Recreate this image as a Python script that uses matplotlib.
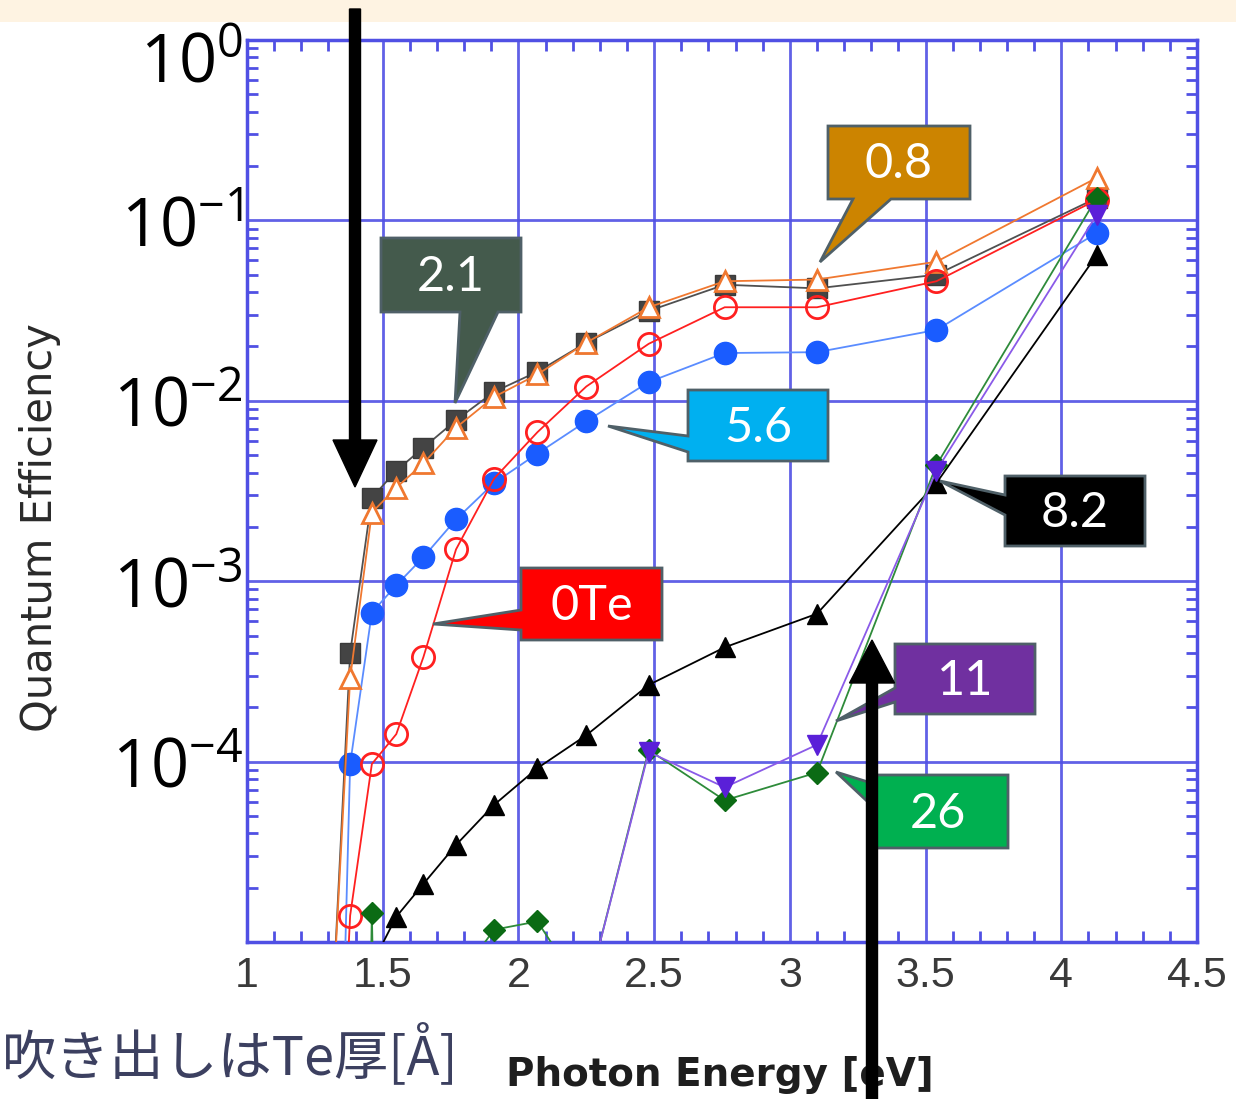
import numpy as np
import matplotlib
matplotlib.use("Agg")
import matplotlib.pyplot as plt
from matplotlib.patches import Rectangle, Polygon, FancyArrow
from matplotlib.ticker import FixedLocator, FuncFormatter, LogLocator, MultipleLocator, NullFormatter
from matplotlib.transforms import ScaledTranslation

nan = np.nan
# ---------------- data ----------------
energy = [1.31, 1.38, 1.46, 1.55, 1.65, 1.77, 1.91, 2.07, 2.25, 2.48, 2.76, 3.10, 3.54, 4.13]
qe_2p1 = [3e-6, 4.0e-4, 2.9e-3, 4.1e-3, 5.5e-3, 7.8e-3, 1.12e-2, 1.45e-2, 2.1e-2, 3.15e-2, 4.4e-2, 4.2e-2, 5.0e-2, 1.33e-1]
qe_0p8 = [3e-6, 2.9e-4, 2.4e-3, 3.3e-3, 4.5e-3, 7.1e-3, 1.05e-2, 1.4e-2, 2.1e-2, 3.3e-2, 4.6e-2, 4.7e-2, 5.9e-2, 1.72e-1]
qe_0te = [1e-7, 1.4e-5, 9.7e-5, 1.42e-4, 3.8e-4, 1.5e-3, 3.7e-3, 6.7e-3, 1.2e-2, 2.07e-2, 3.3e-2, 3.3e-2, 4.6e-2, 1.3e-1]
qe_5p6 = [1e-8, 9.7e-5, 6.7e-4, 9.5e-4, 1.36e-3, 2.2e-3, 3.5e-3, 5.1e-3, 7.7e-3, 1.27e-2, 1.84e-2, 1.86e-2, 2.47e-2, 8.5e-2]
qe_8p2 = [nan, nan, 7.5e-6, 1.38e-5, 2.1e-5, 3.45e-5, 5.75e-5, 9.2e-5, 1.4e-4, 2.66e-4, 4.3e-4, 6.6e-4, 3.5e-3, 6.4e-2]
qe_11 = [nan, nan, nan, nan, nan, nan, nan, nan, 5e-6, 1.13e-4, 7.2e-5, 1.24e-4, 4.1e-3, 1.07e-1]
qe_26 = [nan, 1e-12, 1.45e-5, 1e-12, 1e-7, 6e-6, 1.17e-5, 1.3e-5, 5e-6, 1.16e-4, 6.1e-5, 8.7e-5, 4.4e-3, 1.33e-1]

callout_labels = ["0.8", "2.1", "5.6", "0Te", "8.2", "11", "26"]
callout_colors = ["#CC8400", "#445A4C", "#00B0F0", "#FF0000", "#000000", "#7030A0", "#00B050"]

x_ticks = [1, 1.5, 2, 2.5, 3, 3.5, 4, 4.5]
x_tick_labels = ["1", "1.5", "2", "2.5", "3", "3.5", "4", "4.5"]
y_ticks = [1e-5, 1e-4, 1e-3, 1e-2, 1e-1, 1e0]

W, H = 1236, 1099
fig = plt.figure(figsize=(W / 100, H / 100), dpi=100)
fig.patch.set_facecolor("white")

def fx(px):
    return px / W

def fy(py):
    return 1 - py / H

# top peach band
fig.add_artist(Rectangle((0, fy(22)), 1, 22 / H, transform=fig.transFigure,
                         facecolor="#FEF3E2", edgecolor="none", zorder=0))

ax = fig.add_axes([fx(247), fy(942), fx(1197) - fx(247), fy(40) - fy(942)])
ax.set_yscale("log")
ax.set_xlim(1, 4.5)
ax.set_ylim(1e-5, 1)

blue = "#5050E4"
for s in ax.spines.values():
    s.set_color(blue)
    s.set_linewidth(2.5)
ax.grid(True, which="major", color=blue, linewidth=2.0, alpha=0.9)
ax.set_axisbelow(True)

ax.xaxis.set_major_locator(FixedLocator(x_ticks))
ax.set_xticklabels(x_tick_labels)
ax.xaxis.set_minor_locator(MultipleLocator(0.1))
ax.yaxis.set_major_locator(FixedLocator(y_ticks))
ax.yaxis.set_minor_locator(LogLocator(base=10, subs=np.arange(2, 10)))
ax.yaxis.set_minor_formatter(NullFormatter())
ax.yaxis.set_major_formatter(FuncFormatter(
    lambda v, p: r"$\mathdefault{10^{%d}}$" % int(round(np.log10(v)))))

ax.tick_params(which="both", direction="in", top=True, right=True, color=blue)
ax.tick_params(which="major", length=0, width=2)
ax.tick_params(which="minor", length=8, width=2)
ax.tick_params(axis="x", which="major", pad=10, labelsize=31, labelcolor="#3a3a3a")
ax.tick_params(axis="y", which="major", pad=3, labelsize=48, labelcolor="black")
for lab in ax.get_xticklabels():
    lab.set_fontfamily("Liberation Sans")
for lab in ax.get_yticklabels():
    lab.set_fontfamily("Open Sans")

# y=10^-5 label not shown in the reference; 10^0 label shifted down
fig.canvas.draw()
ylabs = ax.get_yticklabels()
ylabs[0].set_visible(False)
ylabs[-1].set_transform(ylabs[-1].get_transform() + ScaledTranslation(0, -17 / 100, fig.dpi_scale_trans))

# ---------------- series ----------------
lw = 1.3
ax.plot(energy, qe_5p6, "-o", color="#5A8CFF", lw=lw, ms=16, mfc="#1A5CFF", mec="#1A5CFF", zorder=3)
ax.plot(energy, qe_8p2, "-^", color="black", lw=lw, ms=14, mfc="black", mec="black", zorder=3)
ax.plot(energy, qe_2p1, "-s", color="#505050", lw=lw, ms=14, mfc="#444444", mec="#3a3a3a", zorder=4)
ax.plot(energy, qe_0p8, "-^", color="#F07830", lw=lw, ms=14, mfc="white", mec="#F07830", mew=2, zorder=5)
ax.plot(energy, qe_0te, "-o", color="#FF2020", lw=lw, ms=16, mfc="none", mec="#FF2020", mew=2, zorder=5)
ax.plot(energy, qe_26, "-D", color="#2E8B3A", lw=lw, ms=11, mfc="#0B6B14", mec="#0B6B14", zorder=6)
ax.plot(energy, qe_11, "-v", color="#8A5AE8", lw=lw, ms=14, mfc="#5A20D8", mec="#5A20D8", zorder=7)

# ---------------- labels ----------------
ax.set_ylabel("Quantum Efficiency", fontsize=30, color="#2a2a2a", fontfamily="DejaVu Sans")
ax.yaxis.set_label_coords((40 - 247) / 950, 1 - (528 - 40) / 902)
ax.yaxis.label.set_verticalalignment("center")
ax.set_xlabel("Photon Energy [eV]", fontsize=28, color="#1e1e1e", fontweight="bold", fontfamily="DejaVu Sans")
ax.xaxis.set_label_coords((720 - 247) / 950, -(1075 - 942) / 902)
ax.xaxis.label.set_verticalalignment("center")

fig.text(fx(2), fy(1055), "吹き出しはTe厚[Å]", fontsize=39, color="#3C4060",
         family=["Noto Sans CJK JP", "DejaVu Sans"], ha="left", va="center")

# ---------------- callouts ----------------
callout_shapes = [
    [(828, 126), (970, 126), (970, 199), (891, 199), (820, 262), (853, 199), (828, 199)],
    [(381, 238), (521, 238), (521, 312), (498, 312), (455, 403), (460, 312), (381, 312)],
    [(688, 390), (828, 390), (828, 461), (688, 461), (688, 452), (608, 426), (688, 436)],
    [(521, 568), (662, 568), (662, 640), (521, 640), (521, 630), (433, 624), (521, 610)],
    [(1005, 476), (1145, 476), (1145, 546), (1005, 546), (1005, 515), (940, 481), (1005, 495)],
    [(895, 644), (1035, 644), (1035, 714), (895, 714), (895, 702), (836, 721), (895, 688)],
    [(868, 775), (1008, 775), (1008, 848), (868, 848), (868, 802), (836, 772), (868, 782)],
]
for lab, col, pts in zip(callout_labels, callout_colors, callout_shapes):
    poly = Polygon([(fx(a), fy(b)) for a, b in pts], closed=True, transform=fig.transFigure,
                   facecolor=col, edgecolor="#4f6068", linewidth=2, zorder=10)
    fig.add_artist(poly)
    xs = [p[0] for p in pts[:4]]
    ys = [p[1] for p in pts[:4]]
    cx = (min(xs) + max(xs)) / 2
    cy = (min(ys) + max(ys)) / 2 + 2
    fig.text(fx(cx), fy(cy), lab, fontsize=35, color="white", family="Lato",
             ha="center", va="center", zorder=11)

# ---------------- arrows ----------------
fig.add_artist(FancyArrow(fx(355), fy(9), 0, -(487 - 9) / H, width=11 / W,
                          head_width=44 / W, head_length=47 / H, length_includes_head=True,
                          transform=fig.transFigure, color="black", zorder=12))
fig.add_artist(FancyArrow(fx(872), fy(1102), 0, (1102 - 640) / H, width=11 / W,
                          head_width=45 / W, head_length=43 / H, length_includes_head=True,
                          transform=fig.transFigure, color="black", zorder=12))

fig.savefig("out.png", dpi=100)
